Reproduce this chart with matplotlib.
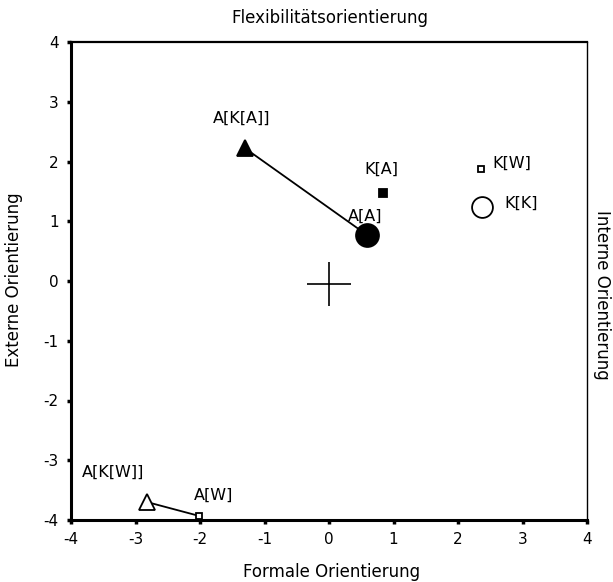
import matplotlib.pyplot as plt

plt.rcParams['axes.unicode_minus'] = False

# Positions of the groups on the two orientation dimensions
labels = ['A[K[A]]', 'A[A]', 'K[A]', 'K[W]', 'K[K]', 'A[K[W]]', 'A[W]']
x_vals = [-1.30, 0.59, 0.84, 2.36, 2.37, -2.82, -2.02]
y_vals = [2.22, 0.77, 1.48, 1.88, 1.24, -3.70, -3.93]
markers = ['^', 'o', 's', 's', 'o', '^', 's']
filled = [True, True, True, False, False, False, False]
sizes = [12, 16.5, 6, 5, 15, 11, 5]

# label offsets in pixels (dx, dy)
label_offsets = [(-4, 30), (-2, 19), (-2, 23), (31, 5), (39, 4), (-34, 30), (15, 21)]

# connected pairs
links = [('A[K[A]]', 'A[A]'), ('A[K[W]]', 'A[W]')]

# origin marker
origin = (0.0, -0.05)

fig = plt.figure(figsize=(6.13, 5.82), dpi=100)
ax = fig.add_axes([71 / 613, 62 / 582, 516 / 613, 478 / 582])

idx = {l: i for i, l in enumerate(labels)}
for a, b in links:
    ax.plot([x_vals[idx[a]], x_vals[idx[b]]], [y_vals[idx[a]], y_vals[idx[b]]],
            color='black', lw=1.3, zorder=2)

for i, lab in enumerate(labels):
    ax.plot(x_vals[i], y_vals[i], marker=markers[i], markersize=sizes[i],
            markerfacecolor='black' if filled[i] else 'white',
            markeredgecolor='black', markeredgewidth=1.3, linestyle='none', zorder=3)
    dx, dy = label_offsets[i]
    ax.annotate(lab, (x_vals[i], y_vals[i]), xytext=(dx * 0.72, dy * 0.72),
                textcoords='offset points', ha='center', va='center', fontsize=11.5)

ax.plot(origin[0], origin[1], marker='+', markersize=32, markeredgewidth=1.2,
        color='black', linestyle='none', zorder=3)

ax.set_xlim(-4, 4)
ax.set_ylim(-4, 4)
ax.set_xticks(range(-4, 5))
ax.set_yticks(range(-4, 5))
ax.tick_params(direction='out', length=3, width=2.5, labelsize=11, pad=6)

ax.spines['left'].set_linewidth(2.2)
ax.spines['bottom'].set_linewidth(2.2)
ax.spines['top'].set_linewidth(1.6)
ax.spines['right'].set_linewidth(1.0)

fig.text(330 / 613, 1 - 18 / 582, 'Flexibilitätsorientierung', ha='center', va='center', fontsize=12)
fig.text(332 / 613, 1 - 572 / 582, 'Formale Orientierung', ha='center', va='center', fontsize=12)
fig.text(14 / 613, 1 - 280 / 582, 'Externe Orientierung', ha='center', va='center',
         rotation=90, fontsize=12)
fig.text(602 / 613, 1 - 295 / 582, 'Interne Orientierung', ha='center', va='center',
         rotation=270, fontsize=12)

fig.savefig('out.png', dpi=100)
